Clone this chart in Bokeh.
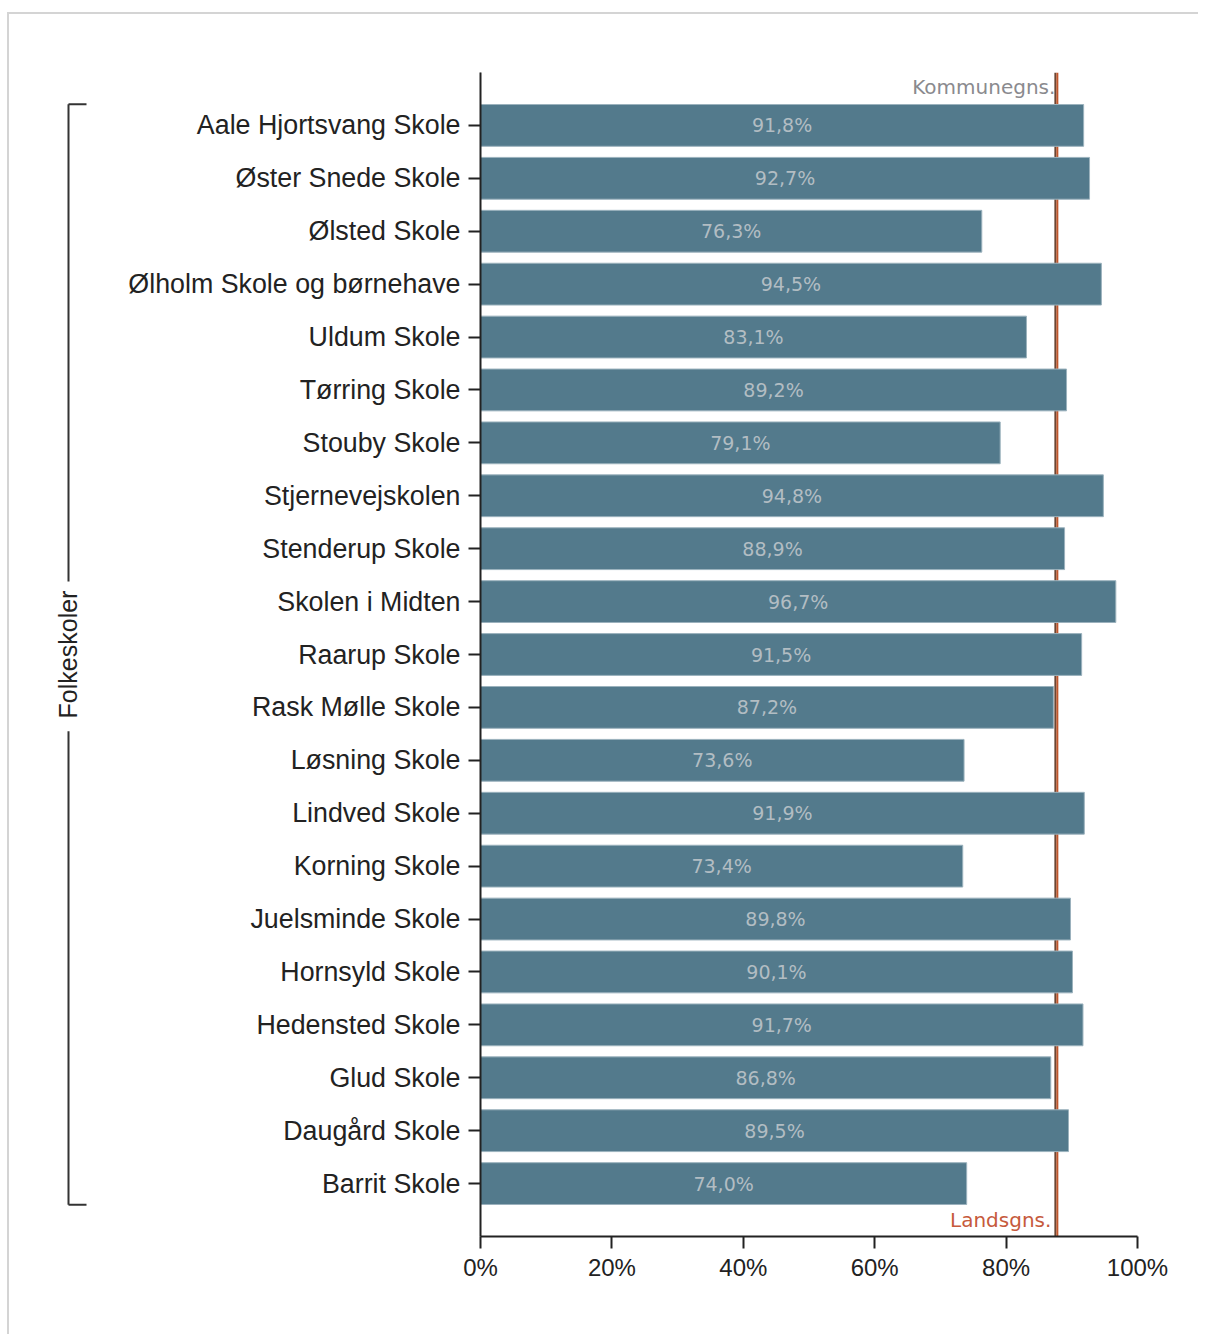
import math
from bokeh.plotting import figure
from bokeh.models import (FactorRange, Range1d, Span, ColumnDataSource, FixedTicker,
                          PrintfTickFormatter, Arrow)
from bokeh.layouts import row
from bokeh.embed import file_html
from bokeh.resources import INLINE
from bokeh.core.properties import value

# ---------------- data ----------------
schools = [
    "Aale Hjortsvang Skole", "Øster Snede Skole", "Ølsted Skole",
    "Ølholm Skole og børnehave", "Uldum Skole", "Tørring Skole",
    "Stouby Skole", "Stjernevejskolen", "Stenderup Skole",
    "Skolen i Midten", "Raarup Skole", "Rask Mølle Skole",
    "Løsning Skole", "Lindved Skole", "Korning Skole",
    "Juelsminde Skole", "Hornsyld Skole", "Hedensted Skole",
    "Glud Skole", "Daugård Skole", "Barrit Skole",
]
pct = [91.8, 92.7, 76.3, 94.5, 83.1, 89.2, 79.1, 94.8, 88.9, 96.7, 91.5,
       87.2, 73.6, 91.9, 73.4, 89.8, 90.1, 91.7, 86.8, 89.5, 74.0]
group_label = "Folkeskoler"
kommune_avg = 87.5
kommune_label = "Kommunegns."
lands_avg = 87.8
lands_label = "Landsgns."
x_ticks = [0, 20, 40, 60, 80, 100]

labels = [f"{v:.1f}".replace(".", ",") + "%" for v in pct]
mids = [v / 2 for v in pct]

src = ColumnDataSource(dict(school=schools, pct=pct, label=labels, mid=mids))

AXIS_FONT = "Liberation Sans"
DARK = "#222222"
FRAME_W = 657
TICK = 12

# ---------------- main figure ----------------
yr = FactorRange(factors=schools[::-1], range_padding=0.5, range_padding_units="absolute")
xr = Range1d(x_ticks[0], x_ticks[-1])
p = figure(width=1089, height=1320, y_range=yr, x_range=xr,
           output_backend="svg", toolbar_location=None,
           min_border_left=371, min_border_right=61, min_border_top=58,
           min_border_bottom=98, outline_line_color=None)
p.xgrid.grid_line_color = None
p.ygrid.grid_line_color = None

p.add_layout(Span(location=kommune_avg, dimension="height", line_color="#6a4634",
                  line_width=2, level="underlay"))
p.add_layout(Span(location=lands_avg, dimension="height", line_color="#c0562c",
                  line_width=2, level="underlay"))

p.hbar(y="school", left=0, right="pct", height=0.79, source=src,
       fill_color="#537a8c", line_color="#9bb2bd", line_width=1)
p.text(x="mid", y="school", text="label", source=src, text_align="center",
       text_baseline="middle", text_font=value("DejaVu Sans"),
       text_font_size="19px", text_color="#b2bdc3")

p.text(x=[kommune_avg], y=[(schools[0], 0.72)], text=[kommune_label],
       text_align="right", text_baseline="alphabetic", x_offset=0,
       text_font=value("DejaVu Sans"), text_font_size="20px", text_color="#8a8a8e")
p.text(x=[lands_avg], y=[(schools[-1], -0.68)], text=[lands_label],
       text_align="right", text_baseline="alphabetic", x_offset=-6,
       text_font=value("DejaVu Sans"), text_font_size="20px", text_color="#c65a3c")

# outer end ticks of the category axis (d3 style)
tick_data = TICK * (x_ticks[-1] - x_ticks[0]) / FRAME_W
y_top = len(schools) + 0.5
y_bot = -0.5
for yy in (y_top, y_bot):
    p.add_layout(Arrow(end=None, start=None, x_start=-tick_data, x_end=0,
                       y_start=yy, y_end=yy, line_width=2, line_color=DARK))

for ax in (p.xaxis[0], p.yaxis[0]):
    ax.axis_line_width = 2
    ax.axis_line_color = DARK
    ax.major_tick_line_width = 2
    ax.major_tick_line_color = DARK
    ax.major_tick_out = TICK
    ax.major_tick_in = 0
    ax.minor_tick_line_color = None
    ax.major_label_text_font = AXIS_FONT
    ax.major_label_text_color = DARK

p.xaxis.ticker = FixedTicker(ticks=x_ticks)
p.xaxis.formatter = PrintfTickFormatter(format="%d%%")
p.xaxis.major_label_text_font_size = "24px"
p.xaxis.major_label_standoff = 5
p.yaxis.major_label_text_font_size = "26.8px"
p.yaxis.major_label_standoff = 8

# ---------------- bracket figure ----------------
lf = figure(width=100, height=1320, x_range=Range1d(0, 100), y_range=yr,
            output_backend="svg", toolbar_location=None,
            min_border_left=0, min_border_right=0, min_border_top=58,
            min_border_bottom=98, outline_line_color=None,
            x_axis_location=None, y_axis_location=None)
lf.grid.visible = False

top, mid, bot = schools[0], schools[len(schools) // 2], schools[-1]
bx, tx = 59, 77
lf.segment(x0=[bx, bx, bx, bx], x1=[bx, bx, tx, tx],
           y0=[(top, 0.4), (mid, -1.45), (top, 0.4), (bot, -0.4)],
           y1=[(mid, 1.38), (bot, -0.4), (top, 0.4), (bot, -0.4)],
           line_color="#333333", line_width=2)
lf.text(x=[bx - 1], y=[mid], text=[group_label], angle=math.pi / 2,
        text_align="center", text_baseline="middle",
        text_font=value(AXIS_FONT), text_font_size="25px", text_color=DARK)

layout = row(lf, p, styles={"border-top": "2px solid #d4d4d4",
                            "border-left": "2px solid #d4d4d4",
                            "margin-top": "12px", "margin-left": "7px"})

open("out.html", "w").write(file_html(layout, INLINE))
